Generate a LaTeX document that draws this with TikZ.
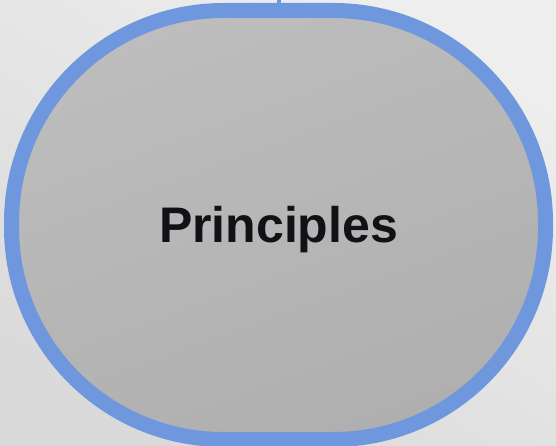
\documentclass[tikz,border=0pt]{standalone}
\usepackage{fontspec}
\setmainfont{Liberation Sans}
\usepackage{tikz}
\definecolor{ringblue}{HTML}{6E97DD}
\definecolor{bglight}{HTML}{EEEEEE}
\definecolor{bgdark}{HTML}{DADADA}
\definecolor{fillhi}{HTML}{BDBDBD}
\definecolor{filllo}{HTML}{AFAFAF}
\definecolor{inkdark}{HTML}{111116}
\tikzstyle{ring} = [draw=ringblue,line width=15pt,rounded corners=212pt]
\tikzstyle{topic} = [ring,shading=axis,top color=fillhi,bottom color=filllo,shading angle=20,
  minimum width=534pt,minimum height=429pt,inner sep=0pt,text height=40pt,text depth=6pt,
  font=\fontsize{50}{56}\selectfont\bfseries,text=inkdark]
\tikzstyle{stub} = [draw=ringblue,line width=4pt]

\begin{document}
\begin{tikzpicture}[x=1pt,y=-1pt]

    \useasboundingbox (0,0) rectangle (556,446);
    \shade[bottom color=bgdark,top color=bglight,shading angle=-30] (0,0) rectangle (556,446);

    \node[topic] (P) at (278.5,225.0) {Principles};
    \coordinate (T) at (278.5,0.0);

    \draw[stub] (T) -- ([yshift=-10pt]P.north);

\end{tikzpicture}
\end{document}
